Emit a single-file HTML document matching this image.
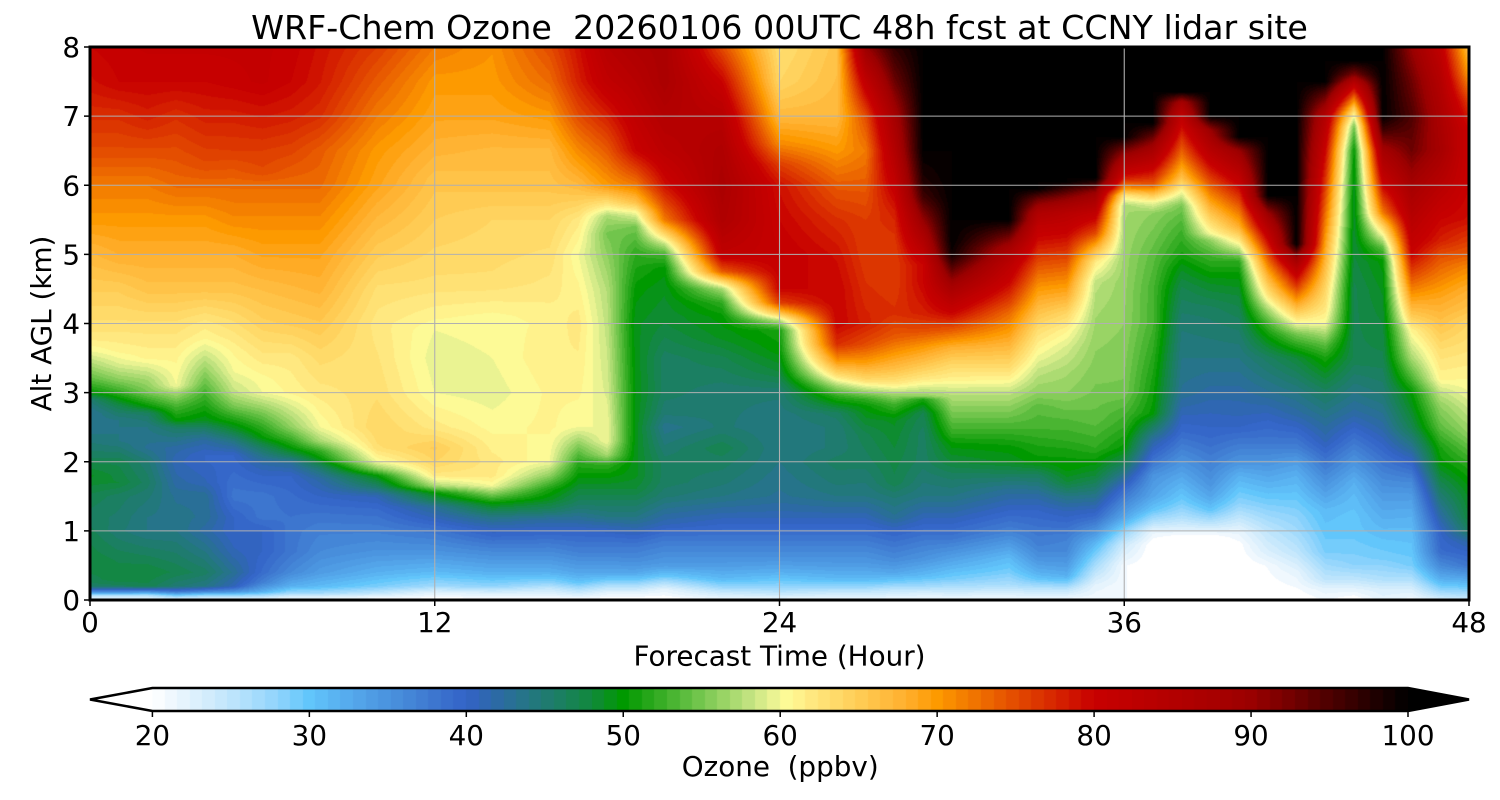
<!DOCTYPE html>
<html>
<head>
<meta charset="utf-8">
<style>
html,body{margin:0;padding:0;background:#fff;width:1500px;height:800px;overflow:hidden;position:relative}
#c{position:absolute;left:90px;top:47px}
#cb{position:absolute;left:152px;top:688px}
svg{position:absolute;left:0;top:0}
text{font-family:"DejaVu Sans","Liberation Sans",sans-serif;fill:#000;white-space:pre}
</style>
</head>
<body>
<canvas id="c" width="1379" height="553"></canvas>
<canvas id="cb" width="1256" height="23"></canvas>
<svg width="1500" height="800" viewBox="0 0 1500 800">
  <g stroke="#b0b0b0" stroke-width="1.1">
    <line x1="434.75" y1="47" x2="434.75" y2="600"/>
    <line x1="779.5" y1="47" x2="779.5" y2="600"/>
    <line x1="1124.25" y1="47" x2="1124.25" y2="600"/>
    <line x1="90" y1="530.875" x2="1469" y2="530.875"/>
    <line x1="90" y1="461.75" x2="1469" y2="461.75"/>
    <line x1="90" y1="392.625" x2="1469" y2="392.625"/>
    <line x1="90" y1="323.5" x2="1469" y2="323.5"/>
    <line x1="90" y1="254.375" x2="1469" y2="254.375"/>
    <line x1="90" y1="185.25" x2="1469" y2="185.25"/>
    <line x1="90" y1="116.125" x2="1469" y2="116.125"/>
  </g>
  <rect x="90" y="47" width="1379" height="553" fill="none" stroke="#000" stroke-width="3"/>
  <g stroke="#000" stroke-width="1.5">
    <line x1="90" y1="600" x2="90" y2="606"/>
    <line x1="434.75" y1="600" x2="434.75" y2="606"/>
    <line x1="779.5" y1="600" x2="779.5" y2="606"/>
    <line x1="1124.25" y1="600" x2="1124.25" y2="606"/>
    <line x1="1469" y1="600" x2="1469" y2="606"/>
    <line x1="84" y1="600" x2="90" y2="600"/>
    <line x1="84" y1="530.875" x2="90" y2="530.875"/>
    <line x1="84" y1="461.75" x2="90" y2="461.75"/>
    <line x1="84" y1="392.625" x2="90" y2="392.625"/>
    <line x1="84" y1="323.5" x2="90" y2="323.5"/>
    <line x1="84" y1="254.375" x2="90" y2="254.375"/>
    <line x1="84" y1="185.25" x2="90" y2="185.25"/>
    <line x1="84" y1="116.125" x2="90" y2="116.125"/>
    <line x1="84" y1="47" x2="90" y2="47"/>
  </g>
  <g font-size="27.8" text-anchor="middle">
    <text x="90" y="632">0</text>
    <text x="434.75" y="632">12</text>
    <text x="779.5" y="632">24</text>
    <text x="1124.25" y="632">36</text>
    <text x="1469" y="632">48</text>
  </g>
  <g font-size="27.8" text-anchor="end">
    <text x="80" y="610">0</text>
    <text x="80" y="540.9">1</text>
    <text x="80" y="471.8">2</text>
    <text x="80" y="402.6">3</text>
    <text x="80" y="333.5">4</text>
    <text x="80" y="264.4">5</text>
    <text x="80" y="195.3">6</text>
    <text x="80" y="126.1">7</text>
    <text x="80" y="57">8</text>
  </g>
  <text x="779.5" y="39" font-size="33.3" text-anchor="middle">WRF-Chem Ozone  20260106 00UTC 48h fcst at CCNY lidar site</text>
  <text x="779.5" y="665.5" font-size="27.8" text-anchor="middle">Forecast Time (Hour)</text>
  <text transform="translate(51,323.5) rotate(-90)" font-size="27.8" text-anchor="middle">Alt AGL (km)</text>
  <polygon points="90,699.5 152.4,688 152.4,711" fill="#ffffff"/>
  <polygon points="1408,688 1469,699.5 1408,711" fill="#000000"/>
  <polygon points="90,699.5 152.4,688 1408,688 1469,699.5 1408,711 152.4,711" fill="none" stroke="#000" stroke-width="2.5"/>
  <g stroke="#000" stroke-width="1.5">
    <line x1="152.4" y1="711" x2="152.4" y2="717"/>
    <line x1="309.35" y1="711" x2="309.35" y2="717"/>
    <line x1="466.3" y1="711" x2="466.3" y2="717"/>
    <line x1="623.25" y1="711" x2="623.25" y2="717"/>
    <line x1="780.2" y1="711" x2="780.2" y2="717"/>
    <line x1="937.15" y1="711" x2="937.15" y2="717"/>
    <line x1="1094.1" y1="711" x2="1094.1" y2="717"/>
    <line x1="1251.05" y1="711" x2="1251.05" y2="717"/>
    <line x1="1408" y1="711" x2="1408" y2="717"/>
  </g>
  <g font-size="27.8" text-anchor="middle">
    <text x="152.4" y="745">20</text>
    <text x="309.35" y="745">30</text>
    <text x="466.3" y="745">40</text>
    <text x="623.25" y="745">50</text>
    <text x="780.2" y="745">60</text>
    <text x="937.15" y="745">70</text>
    <text x="1094.1" y="745">80</text>
    <text x="1251.05" y="745">90</text>
    <text x="1408" y="745">100</text>
  </g>
  <text x="780.2" y="776" font-size="27.8" text-anchor="middle">Ozone  (ppbv)</text>
</svg>
<script>
(function(){
var A=[[20,'ffffff'],[22,'e6f4fd'],[24,'cdeafc'],[26,'b0e0fc'],[28,'90d4fc'],[30,'62c6fb'],[32,'58b0f0'],[34,'4f9ce4'],[36,'468ad9'],[38,'3d76cf'],[40,'3363c7'],[42,'2c6aa4'],[44,'247683'],[46,'1b7f62'],[48,'11893c'],[50,'009900'],[52,'2ea91f'],[54,'5dbd3f'],[56,'8fd05f'],[58,'c0e27f'],[59.5,'e8f291'],[60.5,'fffb96'],[62,'ffe880'],[64,'ffd663'],[66,'ffc348'],[68,'ffaf2e'],[70,'fd9a00'],[72,'f27a00'],[74,'e85a00'],[76,'de3c00'],[78,'d41e00'],[80,'c80000'],[84,'b70000'],[88,'a60000'],[90,'9a0000'],[92,'7c0000'],[94,'5c0000'],[96,'3e0000'],[98,'1e0000'],[100,'000000']];
function hx(s){return [parseInt(s.substr(0,2),16),parseInt(s.substr(2,2),16),parseInt(s.substr(4,2),16)];}
var AC=A.map(function(a){return [a[0],hx(a[1])];});
function cm(v){
  if(v<=AC[0][0])return AC[0][1];
  for(var i=1;i<AC.length;i++){
    if(v<=AC[i][0]){var a=AC[i-1],b=AC[i],f=(v-a[0])/(b[0]-a[0]);
      return [Math.round(a[1][0]+(b[1][0]-a[1][0])*f),Math.round(a[1][1]+(b[1][1]-a[1][1])*f),Math.round(a[1][2]+(b[1][2]-a[1][2])*f)];}
  }
  return AC[AC.length-1][1];
}
var lut=[];for(var k=0;k<100;k++)lut.push(cm(20+(k+0.5)*0.8));
function col(v){if(v<20.9)return [255,255,255];if(v>=100)return [0,0,0];var k=Math.floor((v-20)/0.8);if(k>99)k=99;return lut[k];}

var C=[
[0,[[0,21],[0.07,26],[0.1,33],[0.15,40],[0.2,46],[0.5,48],[0.9,47],[1.2,46],[1.5,47],[1.8,49],[2.1,46],[2.4,44],[2.7,43],[2.9,45],[3.0,50],[3.2,54],[3.4,57],[3.6,60],[3.8,62],[4.0,63],[4.5,65],[5.0,67],[5.5,70],[6.0,72],[6.5,75],[7.0,77],[7.5,79],[8,80]]],
[1,[[0,21],[0.07,26],[0.1,33],[0.15,40],[0.2,46],[0.3,48],[0.6,47],[1.0,45],[1.5,46],[1.7,48],[2.0,47],[2.3,44],[2.6,44],[2.8,47],[3.0,52],[3.2,56],[3.4,59],[3.6,61],[3.8,62],[4.0,63],[4.5,65],[5.0,68],[5.5,70],[6.0,72],[6.5,75],[7.0,77],[7.5,80],[8,80.5]]],
[2,[[0,21],[0.07,26],[0.1,32],[0.15,40],[0.2,47],[0.4,48],[0.7,46],[1.0,44],[1.2,44],[1.5,45],[1.7,46],[2.0,45],[2.2,43],[2.5,44],[2.7,46],[2.8,50],[3.0,55],[3.2,57],[3.5,61],[4.0,63],[4.5,66],[5.0,68],[5.5,70],[6.0,72],[6.5,75],[7.0,78],[7.5,80],[8,81]]],
[3,[[0,21],[0.07,30],[0.12,38],[0.2,45],[0.4,47],[0.6,46],[1.0,44],[1.5,43],[1.7,42],[2.0,41],[2.2,42],[2.5,46],[2.6,50],[2.8,53],[3.0,57],[3.1,60],[3.5,61],[4.0,63],[4.5,66],[5.0,68],[5.5,70],[6.0,73],[6.5,75],[7.0,77],[7.5,80],[8,81]]],
[4,[[0,21],[0.07,28],[0.12,36],[0.2,44],[0.4,46],[0.7,44],[1.0,42],[1.2,43],[1.5,43],[1.7,41],[2.0,40],[2.1,40],[2.3,42],[2.45,45],[2.6,49],[2.8,51],[3.0,53],[3.3,56],[3.6,59],[3.8,61],[4.0,62],[4.5,66],[5.0,68],[5.5,70],[6.0,73],[6.3,75],[7.0,78],[7.5,80],[8,81]]],
[5,[[0,21],[0.07,28],[0.12,35],[0.2,41],[0.4,43],[0.7,41],[1.0,40],[1.2,40],[1.5,38],[1.8,39],[2.1,40],[2.3,44],[2.45,48],[2.6,51],[2.8,55],[3.0,58],[3.3,60],[3.6,61],[4.0,63],[4.5,66],[5.0,68],[5.5,71],[6.0,73],[6.5,76],[7.0,78],[7.5,80.5],[8,81]]],
[6,[[0,21],[0.07,27],[0.12,32],[0.25,37],[0.4,39],[0.7,40],[1.0,40],[1.2,38],[1.5,38],[1.8,40],[2.0,42],[2.2,46],[2.35,50],[2.5,52],[2.7,55],[3.0,60],[3.2,60.5],[3.5,62],[4.0,64.5],[4.5,66.5],[5.0,69],[5.5,71],[6.0,73],[6.2,75],[6.5,76],[7.0,78.5],[7.5,81],[8,81]]],
[7,[[0,21],[0.05,23],[0.1,27],[0.2,32],[0.4,36],[0.7,38],[1.0,38],[1.5,39],[1.8,40],[2.0,43],[2.1,47],[2.2,50],[2.35,53],[2.5,56],[2.8,59],[3.0,61],[3.5,62],[4.0,65],[4.5,67],[5.0,69],[5.5,71],[6.0,73],[6.5,75.5],[7.0,78],[7.5,80],[8,80.5]]],
[8,[[0,21],[0.05,23],[0.1,27],[0.2,31],[0.4,34],[0.7,36],[1.0,37],[1.2,38],[1.5,40],[1.75,42],[1.9,45],[2.05,50],[2.15,52],[2.3,57],[2.5,60],[3.0,62],[3.5,63.5],[4.0,65.5],[4.5,67.5],[5.0,69],[5.5,71],[6.0,73],[6.5,74],[7.0,77],[7.5,78.5],[8,79]]],
[10,[[0,20],[0.05,22],[0.1,25],[0.2,29],[0.4,32],[0.7,35],[1.0,37],[1.3,39],[1.5,41],[1.65,46],[1.8,50],[1.9,56],[2.0,60],[2.2,63],[2.5,64],[3.0,63],[3.5,62.5],[4.0,62],[4.5,63],[5.0,65],[5.5,67],[6.0,69],[6.5,70],[7.0,72],[7.5,74],[8,76]]],
[12,[[0,20],[0.1,22],[0.2,27],[0.4,31],[0.7,35],[1.0,38],[1.2,41],[1.35,43],[1.45,47],[1.55,50],[1.65,57],[1.8,62],[2.0,64],[2.2,65],[2.5,62],[3.0,60],[3.5,59.5],[3.9,60],[4.1,61],[4.6,63],[5.1,64],[5.6,65],[6.1,66],[6.5,67.5],[7.0,69],[7.5,70],[8,72]]],
[14,[[0,20],[0.1,23],[0.2,28],[0.4,32],[0.7,36],[0.9,39],[1.05,41],[1.2,44],[1.3,47],[1.4,50],[1.5,54],[1.65,60],[1.8,62],[2.0,62],[2.5,60.5],[3.0,59.5],[3.5,60],[4.1,60.5],[4.6,63],[5.0,63.5],[5.5,64],[6.0,66],[6.5,67],[7.0,69],[7.5,70],[8,70.5]]],
[16,[[0,20],[0.15,24],[0.25,28],[0.4,32],[0.7,36],[1.0,40],[1.15,42],[1.3,46],[1.45,49],[1.6,51],[1.8,56],[2.0,60],[2.5,61],[3.0,61],[3.5,61.5],[4.0,61],[4.5,62],[5.0,63],[5.5,64],[6.0,66],[6.5,67],[7.0,70],[7.5,73],[8,75]]],
[17,[[0,20],[0.05,22],[0.15,26],[0.25,30],[0.4,33],[0.7,37],[1.0,40],[1.2,43],[1.4,46],[1.6,48],[1.8,50],[2.0,52],[2.2,55],[2.5,60],[3.0,61],[4.0,62],[4.5,61],[5.0,60],[5.5,62],[6.0,67],[6.5,71],[7.0,75],[7.5,78],[8,79]]],
[18,[[0,20],[0.1,22],[0.2,26],[0.3,30],[0.4,33],[0.7,37],[0.9,39],[1.05,41],[1.2,44],[1.4,46],[1.6,48],[1.8,50],[1.95,52],[2.1,57],[2.3,60],[2.5,60],[3.0,59],[3.5,58.5],[4.0,58],[4.5,57.5],[5.0,56],[5.3,55],[5.55,57],[5.75,63],[6.0,70],[6.5,74],[7.0,78],[7.5,82],[8,84]]],
[19,[[0,20],[0.1,22],[0.2,26],[0.3,30],[0.4,33],[0.6,36],[0.8,38],[1.0,41],[1.2,44],[1.4,46],[1.6,48],[1.8,49],[2.0,49],[3.0,49.5],[4.0,49],[4.5,50],[5.0,52],[5.4,55],[5.6,60],[5.75,66],[6.0,72],[6.5,80],[7.0,82],[7.5,84],[8,86]]],
[20,[[0,20],[0.15,22],[0.25,26],[0.35,30],[0.5,34],[0.7,36],[0.9,38],[1.1,41],[1.3,43],[1.5,45],[1.7,46],[2.0,46],[2.2,45],[2.5,43.5],[2.7,45],[3.0,46],[3.5,46],[4.0,48],[4.5,49],[4.8,50],[5.0,53],[5.15,58],[5.3,64],[5.5,72],[6.0,79],[6.5,83],[7.0,85],[7.5,87],[8,87]]],
[22,[[0,21],[0.1,24],[0.2,28],[0.3,31],[0.5,34],[0.7,36],[0.9,38],[1.1,40],[1.3,42],[1.5,44],[1.7,45],[2.0,46],[2.2,47],[2.5,45],[3.0,45],[3.5,47],[3.8,49],[4.1,50],[4.3,52],[4.5,57],[4.6,63],[4.75,74],[5.0,82],[5.5,86],[6.0,87],[6.5,86],[7.0,84],[7.5,80],[8,75]]],
[24,[[0,21],[0.1,25],[0.2,28],[0.4,32],[0.6,35],[0.8,37],[1.0,39],[1.2,41],[1.5,43],[2.0,44],[2.5,44],[3.0,45],[3.3,48],[3.6,50],[3.9,51],[4.05,58],[4.15,66],[4.3,76],[4.5,80],[5.0,81],[5.5,80],[6.0,79],[6.3,76],[6.6,71],[7.0,67],[7.5,64],[8,63]]],
[26,[[0,21],[0.1,24],[0.2,28],[0.3,31],[0.5,34],[0.7,36],[0.9,38],[1.1,40],[1.3,42],[1.5,44],[1.7,45],[2.0,46],[2.2,45],[2.5,45],[2.7,46],[2.95,52],[3.1,57],[3.25,63],[3.45,70],[3.7,77],[4.0,80],[4.5,80],[5.0,79],[5.5,77],[6.0,74],[6.5,70],[7.0,67],[7.5,66.5],[8,66]]],
[27,[[0,21],[0.1,24],[0.2,28],[0.3,31],[0.5,34],[0.7,36],[0.9,38],[1.1,40],[1.3,42],[1.5,44],[2.0,46],[2.4,47],[2.8,50],[2.9,52],[3.05,58],[3.2,64],[3.45,70],[3.7,75],[4.0,78],[4.5,77],[5.0,76],[5.5,76],[6.0,74],[6.5,72],[7.0,75],[7.5,82],[8,90]]],
[28,[[0,21],[0.15,25],[0.25,29],[0.4,33],[0.6,36],[0.8,38],[1.0,40],[1.2,43],[1.5,45],[1.7,47],[2.0,47.5],[2.2,48],[2.6,49],[2.84,53],[2.95,56],[3.13,62],[3.32,66],[3.56,70],[3.8,74],[4.15,77],[4.6,76],[5.1,76],[5.6,78],[6.1,82],[6.5,85],[7.0,88],[7.5,93],[8,97]]],
[29,[[0,21],[0.1,23],[0.2,27],[0.35,31],[0.6,35],[0.8,37],[1.0,39],[1.3,42],[1.5,44],[2.0,46],[2.4,46],[2.7,47],[2.9,51],[2.95,56],[3.2,62],[3.42,66],[3.66,70],[3.9,75],[4.15,78],[4.6,80],[4.85,80],[5.1,84],[5.35,88],[5.6,92],[5.83,96],[6.07,98],[6.5,100],[8,100]]],
[30,[[0,21],[0.05,22],[0.15,25],[0.3,29],[0.5,32],[0.7,35],[0.9,38],[1.1,40],[1.3,42],[1.5,44],[1.8,46],[2.0,48],[2.25,50],[2.4,52],[2.6,54],[2.8,56],[3.0,58],[3.18,61],[3.42,64],[3.66,68],[3.9,74],[4.15,80],[4.4,85],[4.62,90],[4.87,96],[5.0,99],[5.2,100],[8,100]]],
[32,[[0,21],[0.1,23],[0.2,26],[0.4,29],[0.6,31],[0.8,34],[1.0,37],[1.2,39],[1.4,41],[1.6,43],[1.8,46],[2.0,49],[2.2,50],[2.4,52],[2.6,54],[2.8,56],[3.0,58],[3.2,61],[3.42,64],[3.66,67],[3.9,70],[4.15,73],[4.33,76],[4.6,80],[4.85,83],[5.1,88],[5.3,94],[5.5,100],[8,100]]],
[33,[[0,21],[0.15,25],[0.3,30],[0.4,32],[0.6,35],[0.8,37],[1.0,38],[1.3,40],[1.5,42],[1.8,46],[2.0,50],[2.2,51],[2.5,53],[2.8,54],[3.0,56],[3.3,58],[3.6,60.5],[3.9,63],[4.2,66.5],[4.5,70],[4.8,74],[5.1,78],[5.4,82],[5.6,86],[5.8,93],[5.95,100],[8,100]]],
[34,[[0,21],[0.05,22],[0.15,25],[0.25,29],[0.35,32],[0.5,34],[0.7,36],[0.9,37],[1.1,39],[1.3,41],[1.5,44],[1.7,48],[1.9,50],[2.1,50.5],[2.3,52],[2.6,53.5],[3.0,56],[3.3,57],[3.66,59],[3.9,61],[4.15,64],[4.4,68],[4.7,72],[5.0,76],[5.3,80],[5.6,84],[5.85,92],[6.05,100],[8,100]]],
[35,[[0,21],[0.2,22],[0.4,25],[0.6,28],[0.8,31],[1.0,35],[1.2,39],[1.4,42],[1.6,45],[1.8,48],[2.0,50],[2.2,52],[2.6,54],[3.0,55],[3.6,56],[4.2,57],[4.6,58],[4.9,62],[5.1,68],[5.3,75],[5.6,82],[5.9,90],[6.1,100],[8,100]]],
[36,[[0,21],[0.5,21],[0.8,24],[1.0,28],[1.2,33],[1.4,36],[1.6,39],[1.8,43],[2.0,47],[2.2,50],[2.5,52],[2.7,53],[3.0,55],[4.0,56],[5.0,56.5],[5.7,57],[5.85,62],[5.95,70],[6.1,78],[6.3,85],[6.5,92],[6.7,100],[8,100]]],
[37,[[0,20],[0.8,20],[1.0,22],[1.1,25],[1.3,30],[1.5,33],[1.8,35],[2.0,38],[2.3,42],[2.5,46],[2.7,50],[3.2,51],[3.6,52],[4.0,53],[4.5,53],[5.0,54],[5.3,55],[5.6,56],[5.75,60],[5.85,65],[6.0,74],[6.3,82],[6.6,90],[6.9,100],[8,100]]],
[38,[[0,20],[0.9,20],[1.0,22],[1.2,26],[1.4,29],[1.6,31],[1.8,33],[2.0,35],[2.2,37],[2.4,39],[2.7,41],[3.0,43],[3.5,44],[4.0,45],[4.5,47],[4.8,49],[5.0,51],[5.4,53],[5.7,55],[5.9,60],[6.1,66],[6.4,72],[6.7,77],[7.0,82],[7.2,88],[7.35,100],[8,100]]],
[39,[[0,20],[0.9,20],[1.0,22],[1.1,25],[1.3,30],[1.5,33],[1.7,35],[2.0,37],[2.3,39],[2.5,40],[3.0,42],[3.5,44],[4.2,46],[4.6,49],[4.8,51],[5.0,53],[5.2,56],[5.3,60],[5.6,66],[5.9,72],[6.2,78],[6.5,84],[6.8,90],[7.0,100],[8,100]]],
[40,[[0,20],[0.5,20],[0.8,20.5],[1.0,22],[1.2,25],[1.4,28],[1.6,30],[1.8,32],[2.0,35],[2.3,38],[2.5,40],[2.7,41],[3.0,42],[3.5,44],[4.0,46],[4.4,48],[4.7,50],[4.9,52],[5.05,57],[5.2,62],[5.4,68],[5.7,74],[6.0,80],[6.2,84],[6.5,90],[6.7,100],[8,100]]],
[41,[[0,20],[0.5,21],[0.7,23],[1.0,25],[1.3,28],[1.5,30],[1.7,32],[2.0,35],[2.3,38],[2.6,40],[3.0,43],[3.5,46],[3.8,50],[4.0,53],[4.2,57],[4.4,62],[4.7,68],[5.0,75],[5.3,82],[5.6,90],[5.85,100],[8,100]]],
[42,[[0,20],[0.2,21],[0.4,22],[0.7,25],[1.0,27],[1.2,28],[1.5,30],[1.8,32],[2.0,34],[2.2,37],[2.5,40],[2.7,42],[3.0,44],[3.5,48],[3.7,52],[3.85,55],[4.0,60],[4.2,66],[4.4,72],[4.6,78],[4.8,84],[5.0,92],[5.15,100],[8,100]]],
[43,[[0,21],[0.15,22],[0.3,25],[0.5,27],[0.7,29],[1.0,30],[1.3,31],[1.5,33],[1.8,36],[2.0,38],[2.3,41],[2.6,43],[3.0,46],[3.3,49],[3.5,51],[3.7,54],[4.0,60],[4.2,62],[4.5,64],[5.0,68],[5.5,72],[6.0,76],[6.5,80],[7.0,85],[7.35,95],[7.5,100],[8,100]]],
[44,[[0,20],[0.15,22],[0.3,25],[0.5,28],[0.7,29],[1.0,30],[1.2,30],[1.5,31],[1.7,32],[2.0,35],[2.2,37],[2.5,40],[2.7,42],[3.0,44],[3.5,47],[4.0,47],[4.5,47],[5.0,48],[6.0,49],[6.5,50],[6.85,55],[7.05,62],[7.25,72],[7.45,82],[7.6,92],[7.8,100],[8,100]]],
[45,[[0,22],[0.15,23],[0.3,26],[0.6,29],[1.0,31],[1.5,34],[2.0,38],[2.5,42],[3.0,45],[3.5,47],[4.0,48],[4.5,49],[4.9,50],[5.1,54],[5.25,59],[5.4,64],[5.6,72],[6.0,80],[6.5,88],[6.8,96],[7.0,100],[8,100]]],
[46,[[0,21],[0.15,23],[0.3,26],[0.5,29],[0.7,30],[1.0,31],[1.2,32],[1.5,34],[1.7,36],[2.0,40],[2.2,43],[2.5,47],[2.8,49],[3.0,50],[3.2,53],[3.5,57],[3.9,61],[4.1,65],[4.4,70],[4.7,75],[5.0,80],[5.5,84],[6.0,88],[6.5,93],[7.0,95],[7.5,93],[8,90]]],
[47,[[0,23],[0.15,28],[0.3,32],[0.5,36],[0.7,39],[1.0,40],[1.2,42],[1.4,44],[1.6,46],[1.8,48],[2.0,50],[2.2,51],[2.5,54],[2.8,56],[3.0,58],[3.2,61],[3.6,63],[4.0,66],[4.4,69],[4.7,72],[5.0,75],[5.2,78],[5.5,80],[6.0,84],[6.5,88],[7.0,87],[7.5,85],[8,82]]],
[48,[[0,24],[0.1,27],[0.2,30],[0.35,34],[0.5,38],[0.7,40],[0.85,42],[1.0,46],[1.2,48],[1.5,49],[1.7,50],[2.0,52],[2.2,54],[2.4,56],[2.7,58],[3.0,60],[3.5,62],[4.0,64],[4.2,66],[4.5,68],[4.8,71],[5.0,74],[5.2,76],[5.5,79],[6.0,80],[6.5,80],[6.8,80],[7.2,76],[7.6,70],[8,66]]]
];

var W=1379,H=553;
function prof(p,h){
  if(h<=p[0][0])return p[0][1];
  for(var i=1;i<p.length;i++){
    if(h<=p[i][0]){var a=p[i-1],b=p[i];return a[1]+(b[1]-a[1])*(h-a[0])/(b[0]-a[0]);}
  }
  return p[p.length-1][1];
}
var arrs=C.map(function(c){
  var a=new Float32Array(H);
  for(var r=0;r<H;r++){var h=(H-r-0.5)/H*8;a[r]=prof(c[1],h);}
  return a;
});
var cv=document.getElementById('c');
var ctx=cv.getContext('2d');
var img=ctx.createImageData(W,H);
var d=img.data;
var ci=0;
for(var x=0;x<W;x++){
  var t=(x+0.5)/W*48;
  while(ci<C.length-2 && t>C[ci+1][0])ci++;
  var t0=C[ci][0],t1=C[ci+1][0];
  var f=(t-t0)/(t1-t0);if(f<0)f=0;if(f>1)f=1;
  var A0=arrs[ci],A1=arrs[ci+1];
  for(var y=0;y<H;y++){
    var v=A0[y]*(1-f)+A1[y]*f;
    var c=col(v);
    var idx=(y*W+x)*4;
    d[idx]=c[0];d[idx+1]=c[1];d[idx+2]=c[2];d[idx+3]=255;
  }
}
ctx.putImageData(img,0,0);

var cb=document.getElementById('cb');
var cx=cb.getContext('2d');
var CW=1256;
for(var k=0;k<100;k++){
  var c=lut[k];
  var xa=Math.round(k*CW/100),xb=Math.round((k+1)*CW/100);
  cx.fillStyle='rgb('+c[0]+','+c[1]+','+c[2]+')';
  cx.fillRect(xa,0,xb-xa,23);
}
})();
</script>
</body>
</html>
